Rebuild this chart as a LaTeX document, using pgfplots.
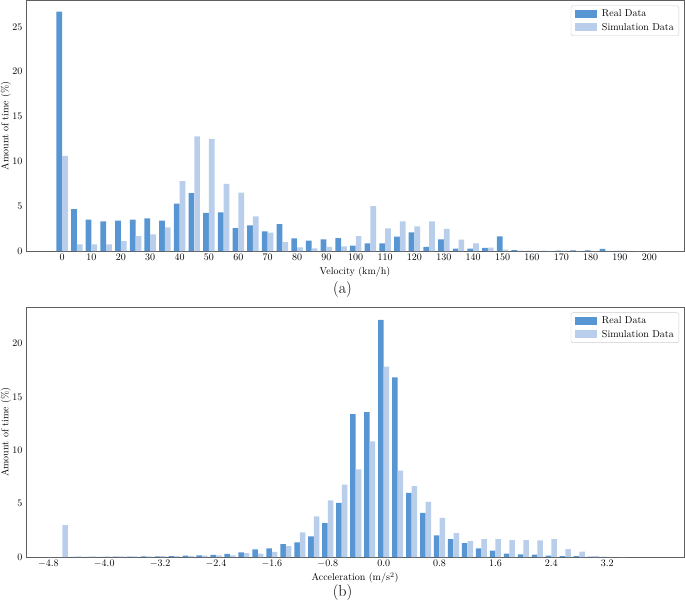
\documentclass[border=0pt]{standalone}
\usepackage{pgfplots}
\pgfplotsset{compat=1.18}
\usepackage{pgfplotstable}
\definecolor{realc}{RGB}{88,149,211}
\definecolor{simc}{RGB}{184,206,235}
\definecolor{framec}{RGB}{95,95,95}

\pgfplotstableread{
x real sim
0 26.7 10.6
5 4.66 0.75
10 3.5 0.75
15 3.3 0.75
20 3.4 1.1
25 3.5 1.65
30 3.65 1.85
35 3.4 2.65
40 5.3 7.8
45 6.45 12.8
50 4.25 12.5
55 4.3 7.5
60 2.55 6.5
65 2.85 3.85
70 2.2 2.05
75 3.0 1.0
80 1.4 0.4
85 1.15 0.3
90 1.3 0.45
95 1.45 0.52
100 0.6 1.65
105 0.86 5.0
110 0.86 2.53
115 1.6 3.3
120 2.09 2.76
125 0.45 3.3
130 1.3 2.46
135 0.26 1.27
140 0.26 0.86
145 0.34 0.37
150 1.64 0.15
155 0.1 0.05
160 0.02 0.02
165 0.02 0.02
170 0.04 0.03
175 0.07 0.02
180 0.06 0.02
185 0.25 0.02
190 0.02 0.05
195 0 0
200 0 0
}\veltable

\pgfplotstableread{
x real sim
-4.8 0 0
-4.6 0 3.0
-4.4 0.02 0.05
-4.2 0.02 0.05
-4.0 0.02 0.05
-3.8 0.03 0.06
-3.6 0.04 0.07
-3.4 0.05 0.07
-3.2 0.07 0.08
-3.0 0.09 0.09
-2.8 0.12 0.1
-2.6 0.15 0.12
-2.4 0.2 0.15
-2.2 0.29 0.16
-2.0 0.44 0.37
-1.8 0.72 0.32
-1.6 0.8 0.47
-1.4 1.21 1.03
-1.2 1.37 2.3
-1.0 1.93 3.8
-0.8 3.18 5.3
-0.6 5.08 6.8
-0.4 13.4 8.22
-0.2 13.58 10.84
0.0 22.24 17.85
0.2 16.85 8.1
0.4 6.01 6.64
0.6 4.14 5.17
0.8 2.02 3.68
1.0 1.68 2.24
1.2 1.31 1.5
1.4 0.81 1.68
1.6 0.59 1.68
1.8 0.31 1.59
2.0 0.25 1.59
2.2 0.22 1.56
2.4 0.12 1.68
2.6 0.09 0.75
2.8 0.09 0.5
3.0 0.03 0.09
3.2 0.02 0.02
3.4 0 0
}\acctable

\pgfplotsset{
  leg/.style={legend image code/.code={\fill[#1, sharp corners] (0pt,-4pt) rectangle (22pt,4pt); \path (-1pt,0pt) (25pt,0pt);}},
  mystyle/.style={
    scale only axis,
    width=658pt,
    axis line style={framec, line width=0.8pt},
    major tick length=0pt,
    tick style={draw=none},
    ymin=0,
    xlabel style={at={(axis description cs:0.5,0)}, anchor=center, yshift=-21pt},
    ylabel style={at={(axis description cs:-0.0304,0.5)}, anchor=center},
    ylabel={Amount of time (\%)},
    legend style={at={(axis description cs:0.9924,0.98)}, anchor=north east,
      draw=black!20, fill=white, rounded corners=2pt, inner xsep=3pt, inner ysep=2pt,
      row sep=1pt, font=\normalsize},
    legend cell align=left,
  }
}

\begin{document}
\begin{tikzpicture}
\useasboundingbox (0,0) rectangle (685pt,-610pt);

\begin{axis}[mystyle,
  at={(26pt,-0.5pt)}, anchor=north west,
  height=250.5pt,
  xmin=-12.3, xmax=211.8, ymax=27.95,
  xtick={0,10,...,200},
  ytick={0,5,10,15,20,25},
  xlabel={Velocity (km/h)},
]
\addplot[ybar, bar width=1.95, bar shift=-0.98, fill=realc, draw=none, leg=realc] table[x=x,y=real] {\veltable};
\addlegendentry{Real Data}
\addplot[ybar, bar width=1.95, bar shift=0.98, fill=simc, draw=none, leg=simc] table[x=x,y=sim] {\veltable};
\addlegendentry{Simulation Data}
\end{axis}

\begin{axis}[mystyle,
  at={(26pt,-307.5pt)}, anchor=north west,
  height=249.5pt,
  xmin=-5.12, xmax=4.30, ymax=23.4,
  xtick={-4.8,-4.0,-3.2,-2.4,-1.6,-0.8,0,0.8,1.6,2.4,3.2},
  xticklabel style={/pgf/number format/.cd, fixed, fixed zerofill, precision=1},
  ytick={0,5,10,15,20},
  xlabel={Acceleration (m/s$^2$)},
]
\addplot[ybar, bar width=0.079, bar shift=-0.04, fill=realc, draw=none, leg=realc] table[x=x,y=real] {\acctable};
\addlegendentry{Real Data}
\addplot[ybar, bar width=0.079, bar shift=0.04, fill=simc, draw=none, leg=simc] table[x=x,y=sim] {\acctable};
\addlegendentry{Simulation Data}
\end{axis}

\node[font=\fontsize{16}{19}\selectfont] at (342.5pt,-290pt) {(a)};
\node[font=\fontsize{16}{19}\selectfont] at (342.5pt,-593pt) {(b)};
\end{tikzpicture}
\end{document}
